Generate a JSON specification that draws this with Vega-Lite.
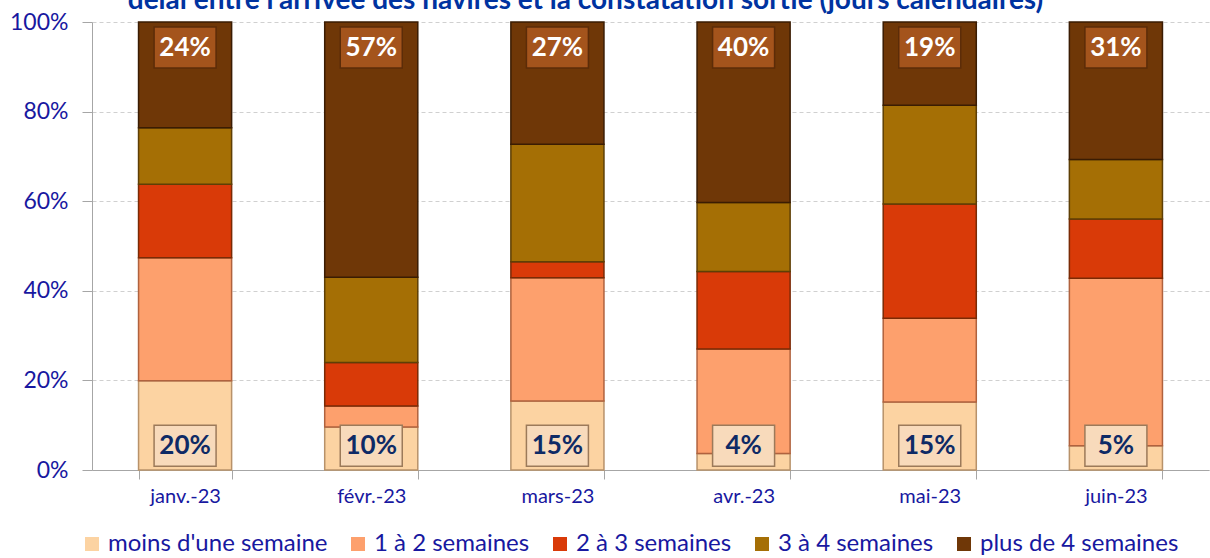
{
  "$schema": "https://vega.github.io/schema/vega-lite/v6.json",
  "width": 1117,
  "height": 448,
  "autosize": {"type": "none"},
  "padding": {"left": 92, "top": 22, "right": 1, "bottom": 88},
  "background": "white",
  "title": {
    "text": "délai entre l'arrivée des navires et la constatation sortie (jours calendaires)",
    "font": "Lato",
    "fontSize": 28,
    "fontWeight": "bold",
    "color": "#0033A0",
    "anchor": "middle",
    "dx": -65,
    "baseline": "alphabetic",
    "offset": 0,
    "dy": 26
  },
  "data": {
    "values": [
      {"mois": "janv.-23", "cat": "moins d'une semaine", "k": 1, "v": 0.199},
      {"mois": "janv.-23", "cat": "1 à 2 semaines", "k": 2, "v": 0.275},
      {"mois": "janv.-23", "cat": "2 à 3 semaines", "k": 3, "v": 0.164},
      {"mois": "janv.-23", "cat": "3 à 4 semaines", "k": 4, "v": 0.126},
      {"mois": "janv.-23", "cat": "plus de 4 semaines", "k": 5, "v": 0.236},
      {"mois": "févr.-23", "cat": "moins d'une semaine", "k": 1, "v": 0.096},
      {"mois": "févr.-23", "cat": "1 à 2 semaines", "k": 2, "v": 0.047},
      {"mois": "févr.-23", "cat": "2 à 3 semaines", "k": 3, "v": 0.097},
      {"mois": "févr.-23", "cat": "3 à 4 semaines", "k": 4, "v": 0.19},
      {"mois": "févr.-23", "cat": "plus de 4 semaines", "k": 5, "v": 0.57},
      {"mois": "mars-23", "cat": "moins d'une semaine", "k": 1, "v": 0.154},
      {"mois": "mars-23", "cat": "1 à 2 semaines", "k": 2, "v": 0.275},
      {"mois": "mars-23", "cat": "2 à 3 semaines", "k": 3, "v": 0.036},
      {"mois": "mars-23", "cat": "3 à 4 semaines", "k": 4, "v": 0.262},
      {"mois": "mars-23", "cat": "plus de 4 semaines", "k": 5, "v": 0.273},
      {"mois": "avr.-23", "cat": "moins d'une semaine", "k": 1, "v": 0.037},
      {"mois": "avr.-23", "cat": "1 à 2 semaines", "k": 2, "v": 0.233},
      {"mois": "avr.-23", "cat": "2 à 3 semaines", "k": 3, "v": 0.173},
      {"mois": "avr.-23", "cat": "3 à 4 semaines", "k": 4, "v": 0.154},
      {"mois": "avr.-23", "cat": "plus de 4 semaines", "k": 5, "v": 0.403},
      {"mois": "mai-23", "cat": "moins d'une semaine", "k": 1, "v": 0.152},
      {"mois": "mai-23", "cat": "1 à 2 semaines", "k": 2, "v": 0.187},
      {"mois": "mai-23", "cat": "2 à 3 semaines", "k": 3, "v": 0.255},
      {"mois": "mai-23", "cat": "3 à 4 semaines", "k": 4, "v": 0.22},
      {"mois": "mai-23", "cat": "plus de 4 semaines", "k": 5, "v": 0.186},
      {"mois": "juin-23", "cat": "moins d'une semaine", "k": 1, "v": 0.054},
      {"mois": "juin-23", "cat": "1 à 2 semaines", "k": 2, "v": 0.374},
      {"mois": "juin-23", "cat": "2 à 3 semaines", "k": 3, "v": 0.132},
      {"mois": "juin-23", "cat": "3 à 4 semaines", "k": 4, "v": 0.133},
      {"mois": "juin-23", "cat": "plus de 4 semaines", "k": 5, "v": 0.307}
    ]
  },
  "encoding": {
    "x": {
      "field": "mois",
      "type": "nominal",
      "sort": null,
      "scale": {"paddingInner": 0.5, "paddingOuter": 0.25},
      "axis": {
        "title": null,
        "labelAngle": 0,
        "labelFont": "Lato",
        "labelFontSize": 20,
        "labelColor": "#1818A0",
        "labelPadding": 7,
        "tickBand": "extent",
        "tickSize": 9,
        "tickColor": "#A6A6A6",
        "domainColor": "#A6A6A6",
        "grid": false
      }
    }
  },
  "layer": [
    {
      "mark": {"type": "bar", "strokeWidth": 1.5},
      "encoding": {
        "y": {
          "field": "v",
          "type": "quantitative",
          "stack": "zero",
          "scale": {"domain": [0, 1]},
          "axis": {
            "title": null,
            "format": ".0%",
            "values": [0, 0.2, 0.4, 0.6, 0.8, 1],
            "labelFont": "Lato",
            "labelFontSize": 23,
            "labelColor": "#1818A0",
            "labelPadding": 14,
            "tickSize": 10,
            "tickColor": "#A6A6A6",
            "domainColor": "#A6A6A6",
            "grid": true,
            "gridDash": [4, 3],
            "gridColor": "#D0D0D0"
          }
        },
        "color": {
          "field": "cat",
          "type": "nominal",
          "scale": {
            "domain": ["moins d'une semaine", "1 à 2 semaines", "2 à 3 semaines", "3 à 4 semaines", "plus de 4 semaines"],
            "range": ["#FCD3A2", "#FDA06D", "#D93A08", "#A56F05", "#6F3707"]
          },
          "legend": {
            "orient": "none",
            "legendX": -12,
            "legendY": 510,
            "direction": "horizontal",
            "title": null,
            "symbolType": "square",
            "symbolSize": 196,
            "symbolStrokeWidth": 0,
            "labelFont": "Lato",
            "labelFontSize": 24,
            "labelColor": "#1818A0",
            "labelOffset": 4,
            "columnPadding": 18,
            "labelLimit": 400
          }
        },
        "stroke": {
          "field": "cat",
          "type": "nominal",
          "scale": {
            "domain": ["moins d'une semaine", "1 à 2 semaines", "2 à 3 semaines", "3 à 4 semaines", "plus de 4 semaines"],
            "range": ["#B8926A", "#B0623E", "#7A2A05", "#5E3F05", "#3A1C03"]
          },
          "legend": null
        },
        "order": {"field": "k", "type": "quantitative"}
      }
    },
    {
      "transform": [{"filter": "datum.k == 1"}],
      "mark": {"type": "point", "shape": "M-1,-0.66L1,-0.66L1,0.66L-1,0.66Z", "filled": true, "size": 3844, "fill": "#F8DABB", "stroke": "#9C7A5A", "strokeWidth": 1.5, "opacity": 1},
      "encoding": {"y": {"datum": 0.054, "type": "quantitative"}}
    },
    {
      "transform": [{"filter": "datum.k == 1"}],
      "mark": {"type": "text", "font": "Lato", "fontSize": 26, "fontWeight": "bold", "color": "#0E2A66", "baseline": "middle", "align": "center"},
      "encoding": {
        "y": {"datum": 0.054, "type": "quantitative"},
        "text": {"field": "v", "type": "quantitative", "format": ".0%"}
      }
    },
    {
      "transform": [{"filter": "datum.k == 5"}],
      "mark": {"type": "point", "shape": "M-1,-0.66L1,-0.66L1,0.66L-1,0.66Z", "filled": true, "size": 3844, "fill": "#A4541C", "stroke": "#5C2C08", "strokeWidth": 1.5, "opacity": 1},
      "encoding": {"y": {"datum": 0.943, "type": "quantitative"}}
    },
    {
      "transform": [{"filter": "datum.k == 5"}],
      "mark": {"type": "text", "font": "Lato", "fontSize": 26, "fontWeight": "bold", "color": "#FFFFFF", "baseline": "middle", "align": "center"},
      "encoding": {
        "y": {"datum": 0.943, "type": "quantitative"},
        "text": {"field": "v", "type": "quantitative", "format": ".0%"}
      }
    }
  ],
  "config": {"view": {"stroke": null}}
}
